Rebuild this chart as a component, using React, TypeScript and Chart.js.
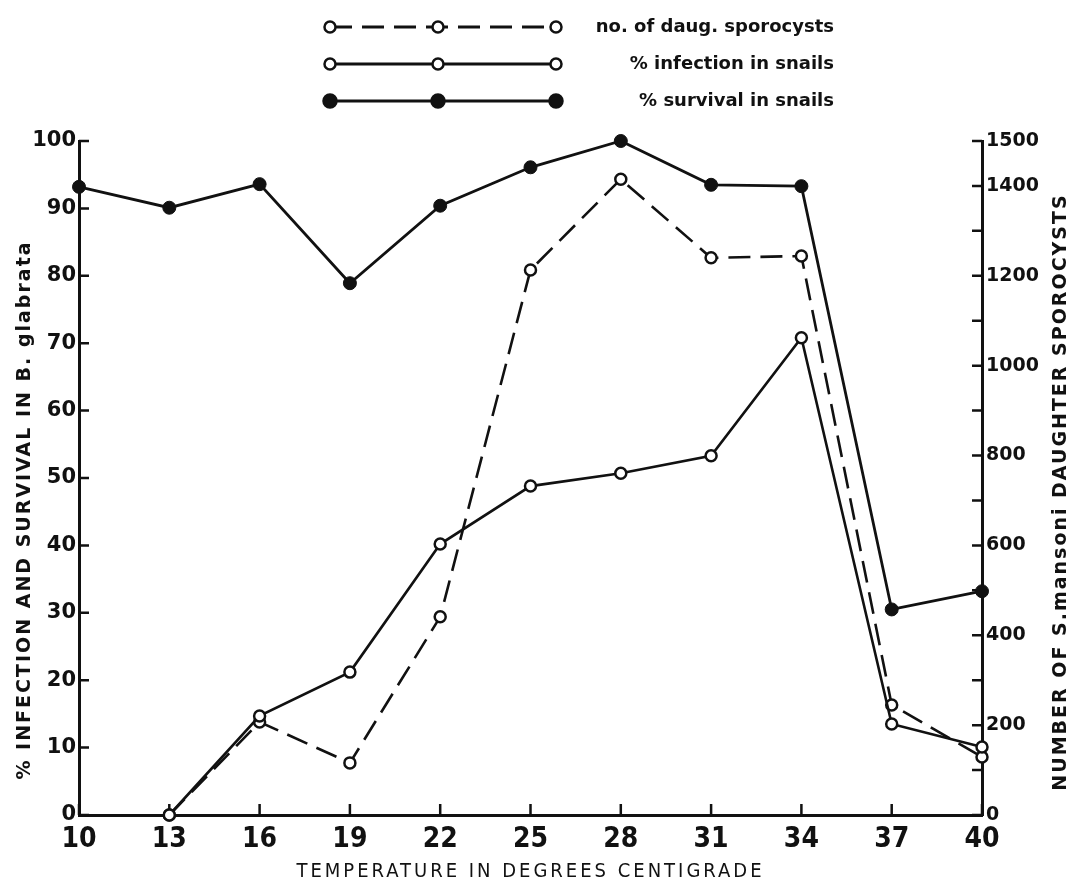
import { useEffect, useRef } from "react";
import { Chart, registerables } from "chart.js";

Chart.register(...registerables);

const temperatures = [10, 13, 16, 19, 22, 25, 28, 31, 34, 37, 40];
const survivalPct = [93.2, 90.1, 93.6, 78.9, 90.4, 96.1, 100, 93.5, 93.3, 30.5, 33.2];
const infectionPct = [null, 0, 14.7, 21.2, 40.2, 48.8, 50.7, 53.3, 70.8, 13.5, 10.1];
const sporocystCount = [null, 0, 207, 116, 441, 1213, 1415, 1240, 1244, 245, 129];

const xTicks = [10, 13, 16, 19, 22, 25, 28, 31, 34, 37, 40];
const leftTicks = [0, 10, 20, 30, 40, 50, 60, 70, 80, 90, 100];
const rightTicks = [0, 100, 200, 300, 400, 500, 600, 700, 800, 900, 1000, 1100, 1200, 1300, 1400, 1500];
const rightLabels = [0, 200, 400, 600, 800, 1000, 1200, 1400, 1500];

const legendLabels = ["no. of daug. sporocysts", "% infection in snails", "% survival in snails"];

const xTitle = "TEMPERATURE IN DEGREES CENTIGRADE";
const leftTitle = "% INFECTION AND SURVIVAL IN B. glabrata";
const rightTitle = "NUMBER OF S.mansoni DAUGHTER SPOROCYSTS";

const INK = "#111";
const BOLD = '"DejaVu Sans", "Noto Sans", sans-serif';
const NARROW = '"Liberation Sans Narrow", "DejaVu Sans Condensed", "Roboto Condensed", sans-serif';
const DASH = [22, 10];

function toPoints(values: (number | null)[]) {
  const pts: { x: number; y: number }[] = [];
  values.forEach((v, i) => {
    if (v !== null) pts.push({ x: temperatures[i], y: v });
  });
  return pts;
}

const decorPlugin = {
  id: "decor",
  beforeDatasetsDraw(chart: any) {
    const { ctx, chartArea } = chart;
    const { left, right, bottom } = chartArea;
    const sx = chart.scales.x;
    const sy = chart.scales.y;
    const sr = chart.scales.y1;
    ctx.save();
    ctx.strokeStyle = INK;
    ctx.lineWidth = 2.5;
    ctx.beginPath();
    leftTicks.forEach((v) => {
      const y = sy.getPixelForValue(v);
      ctx.moveTo(left, y);
      ctx.lineTo(left + 10, y);
    });
    rightTicks.forEach((v) => {
      const y = sr.getPixelForValue(v);
      ctx.moveTo(right, y);
      ctx.lineTo(right - 10, y);
    });
    xTicks.forEach((v) => {
      const x = sx.getPixelForValue(v);
      ctx.moveTo(x, bottom);
      ctx.lineTo(x, bottom - 11);
    });
    ctx.stroke();
    ctx.restore();
  },
  afterDraw(chart: any) {
    const { ctx, chartArea } = chart;
    ctx.save();
    ctx.fillStyle = INK;
    // axis titles
    ctx.font = `bold 19px ${BOLD}`;
    ctx.textAlign = "center";
    ctx.textBaseline = "middle";
    (ctx as any).letterSpacing = "2px";
    ctx.save();
    ctx.translate(25, 510);
    ctx.rotate(-Math.PI / 2);
    ctx.fillText(leftTitle, 0, 0);
    ctx.restore();
    ctx.save();
    ctx.translate(1061, 492);
    ctx.rotate(-Math.PI / 2);
    ctx.fillText(rightTitle, 0, 0);
    ctx.restore();
    ctx.font = `20px ${NARROW}`;
    (ctx as any).letterSpacing = "3px";
    ctx.fillText(xTitle, (chartArea.left + chartArea.right) / 2, 872);
    (ctx as any).letterSpacing = "0px";

    // legend
    const rows = [27, 64, 101];
    const x0 = 330;
    const x1 = 438;
    const x2 = 556;
    rows.forEach((y, i) => {
      ctx.strokeStyle = INK;
      ctx.lineWidth = 2.8;
      ctx.setLineDash(i === 0 ? DASH : []);
      ctx.beginPath();
      ctx.moveTo(x0, y);
      ctx.lineTo(x2, y);
      ctx.stroke();
      ctx.setLineDash([]);
      [x0, x1, x2].forEach((mx) => {
        ctx.beginPath();
        ctx.arc(mx, y, i === 2 ? 6.5 : 5.5, 0, Math.PI * 2);
        ctx.fillStyle = i === 2 ? INK : "#fff";
        ctx.fill();
        ctx.lineWidth = 2.5;
        ctx.stroke();
      });
      ctx.fillStyle = INK;
      ctx.font = `bold 18px ${BOLD}`;
      ctx.textAlign = "right";
      ctx.textBaseline = "middle";
      ctx.fillText(legendLabels[i], 834, y);
    });
    ctx.restore();
  },
};

export default function App() {
  const ref = useRef<HTMLCanvasElement | null>(null);

  useEffect(() => {
    document.body.style.margin = "0";
    const canvas = ref.current;
    if (!canvas) return;
    const chart = new Chart(canvas, {
      type: "line",
      data: {
        datasets: [
          {
            label: legendLabels[2],
            data: toPoints(survivalPct),
            yAxisID: "y",
            borderColor: INK,
            borderWidth: 2.8,
            pointRadius: 6.5,
            pointBackgroundColor: INK,
            pointBorderColor: INK,
            pointBorderWidth: 1,
            tension: 0,
          },
          {
            label: legendLabels[1],
            data: toPoints(infectionPct),
            yAxisID: "y",
            borderColor: INK,
            borderWidth: 2.6,
            pointRadius: 5.5,
            pointBackgroundColor: "#fff",
            pointBorderColor: INK,
            pointBorderWidth: 2.5,
            tension: 0,
          },
          {
            label: legendLabels[0],
            data: toPoints(sporocystCount),
            yAxisID: "y1",
            borderColor: INK,
            borderWidth: 2.6,
            borderDash: DASH,
            pointRadius: 5.5,
            pointBackgroundColor: "#fff",
            pointBorderColor: INK,
            pointBorderWidth: 2.5,
            tension: 0,
          },
        ],
      },
      options: {
        animation: false,
        responsive: false,
        devicePixelRatio: 1,
        clip: false,
        layout: { padding: { top: 141, left: 0, right: 0, bottom: 0 } },
        plugins: { legend: { display: false }, tooltip: { enabled: false }, title: { display: false } },
        scales: {
          x: {
            type: "linear",
            position: "bottom",
            min: 10,
            max: 40,
            afterBuildTicks: (s: any) => {
              s.ticks = xTicks.map((v) => ({ value: v }));
            },
            afterFit: (s: any) => {
              s.height = 79;
            },
            grid: { display: false, drawTicks: false },
            border: { display: true, color: INK, width: 3 },
            ticks: { color: INK, padding: 8, font: { family: NARROW, size: 28, weight: "bold" } },
          },
          y: {
            type: "linear",
            position: "left",
            min: 0,
            max: 100,
            afterBuildTicks: (s: any) => {
              s.ticks = leftTicks.map((v) => ({ value: v }));
            },
            afterFit: (s: any) => {
              s.width = 79;
            },
            grid: { display: false, drawTicks: false },
            border: { display: true, color: INK, width: 3 },
            ticks: { color: INK, padding: 3, font: { family: BOLD, size: 21, weight: "bold" } },
          },
          y1: {
            type: "linear",
            position: "right",
            min: 0,
            max: 1500,
            afterBuildTicks: (s: any) => {
              s.ticks = rightTicks.map((v) => ({ value: v }));
            },
            afterFit: (s: any) => {
              s.width = 94;
            },
            grid: { display: false, drawTicks: false },
            border: { display: true, color: INK, width: 3 },
            ticks: {
              color: INK,
              padding: 4,
              autoSkip: false,
              font: { family: BOLD, size: 19, weight: "bold" },
              callback: (v: any) => (rightLabels.includes(Number(v)) ? String(v) : ""),
            },
          },
        },
      },
      plugins: [decorPlugin],
    } as any);
    return () => chart.destroy();
  }, []);

  return (
    <div style={{ position: "absolute", left: 0, top: 0, width: 1076, height: 894, background: "#fff" }}>
      <canvas ref={ref} width={1076} height={894} style={{ display: "block" }} />
    </div>
  );
}
